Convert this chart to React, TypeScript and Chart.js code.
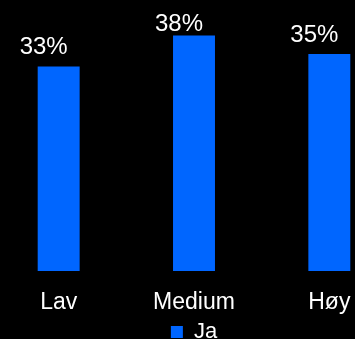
import React, { useEffect, useRef } from "react";
import { Chart, registerables } from "chart.js";

Chart.register(...registerables);

const categories = ["Lav", "Medium", "Høy"];
const seriesName = "Ja";
const values = [33, 38, 35];

const BLUE = "#0066FF";
const FONT = "'Liberation Sans', Arial, sans-serif";

const labelPlugin = {
  id: "barLabels",
  afterDatasetsDraw(chart: any) {
    const { ctx, chartArea } = chart;
    const meta = chart.getDatasetMeta(0);
    ctx.save();
    ctx.fillStyle = "#ffffff";
    ctx.font = `24px ${FONT}`;
    ctx.textAlign = "center";
    ctx.textBaseline = "alphabetic";
    meta.data.forEach((bar: any, i: number) => {
      const v = chart.data.datasets[0].data[i];
      const y = Math.max(bar.y - 12, chartArea.top + 8);
      ctx.fillText(`${v}%`, bar.x - 15, y);
    });
    ctx.restore();
  },
};

export default function App() {
  const ref = useRef<HTMLCanvasElement | null>(null);
  useEffect(() => {
    document.body.style.background = "#000";
    document.body.style.overflow = "hidden";
    const chart = new Chart(ref.current!, {
      type: "bar",
      data: {
        labels: categories,
        datasets: [
          {
            label: seriesName,
            data: values,
            backgroundColor: BLUE,
            borderWidth: 0,
            barPercentage: 0.62,
            categoryPercentage: 0.5,
          },
        ],
      },
      options: {
        responsive: false,
        animation: false,
        devicePixelRatio: 1,
        layout: { padding: { top: 23, left: 0, right: 0, bottom: 0 } },
        scales: {
          x: {
            grid: { display: false, drawTicks: false },
            border: { display: false },
            ticks: {
              color: "#ffffff",
              font: { family: FONT, size: 23 },
              padding: 18,
              maxRotation: 0,
            },
            afterFit: (scale: any) => {
              scale.height = 48;
            },
          },
          y: { display: false, min: 0, max: 40 },
        },
        plugins: {
          legend: {
            display: true,
            position: "bottom",
            labels: {
              color: "#ffffff",
              font: { family: FONT, size: 22 },
              boxWidth: 12,
              boxHeight: 12,
              padding: 2,
            },
          },
          tooltip: { enabled: false },
        },
      },
      plugins: [labelPlugin],
    });
    return () => chart.destroy();
  }, []);
  return (
    <div
      style={{
        position: "fixed",
        left: 0,
        top: 0,
        width: 355,
        height: 339,
        overflow: "hidden",
        background: "#000",
      }}
    >
      <div style={{ position: "absolute", left: -9, top: 0 }}>
        <canvas ref={ref} width={406} height={353} style={{ display: "block" }} />
      </div>
    </div>
  );
}
